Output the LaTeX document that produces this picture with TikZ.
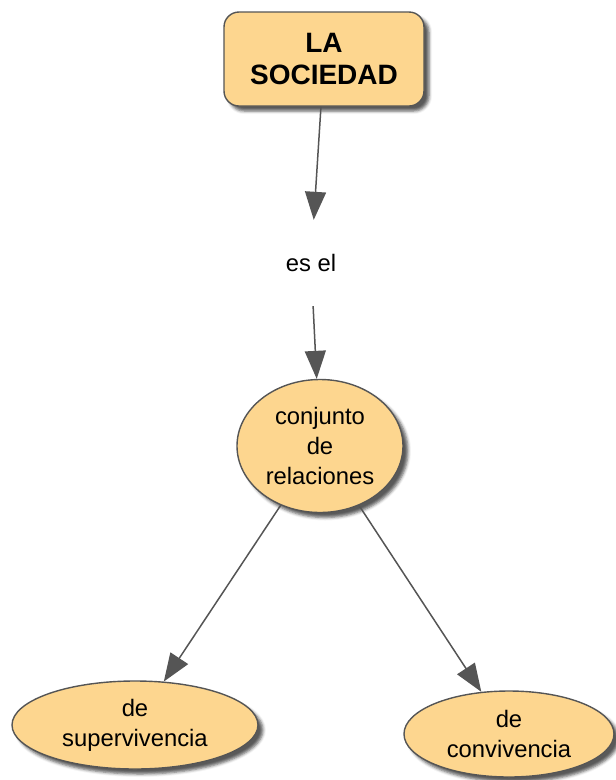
\documentclass[tikz,border=0pt]{standalone}
\usepackage{fontspec}
\setmainfont{Liberation Sans}
\usetikzlibrary{shapes.geometric,arrows.meta,shadows.blur}
\definecolor{conceptfill}{RGB}{253,214,143}
\definecolor{edgegray}{RGB}{85,85,85}
\tikzset{
  concept/.style={draw=edgegray, line width=1.4pt, fill=conceptfill,
    blur shadow={shadow xshift=5pt, shadow yshift=-5pt, shadow blur radius=3pt, shadow opacity=65},
    align=center, text=black, inner sep=0pt},
  conceptbox/.style={concept, rectangle, rounded corners=15pt,
    minimum width=200pt, minimum height=94pt, font=\fontsize{28}{32}\selectfont\bfseries},
  conceptoval/.style={concept, ellipse, font=\fontsize{23.8}{30}\selectfont},
  linkphrase/.style={inner sep=0pt, minimum width=60pt, minimum height=86pt,
    font=\fontsize{23.8}{30}\selectfont, text=black},
  connector/.style={draw=edgegray, line width=1.5pt,
    -{Triangle[length=28pt,width=21pt]}}
}
\begin{document}
\begin{tikzpicture}[x=1pt,y=-1pt]
  \useasboundingbox (0,0) rectangle (616,780);
  \node[conceptbox] (soc) at (324,59) {LA\\SOCIEDAD};
  \node[linkphrase] (es) at (311,263) {es el};
  \node[conceptoval, minimum width=166pt, minimum height=133pt] (rel) at (320,446)
    {conjunto\\de\\relaciones};
  \node[conceptoval, minimum width=246pt, minimum height=88pt] (sup) at (135,725)
    {de\\supervivencia};
  \node[conceptoval, minimum width=210pt, minimum height=86pt] (con) at (509,734)
    {de\\convivencia};
  \draw[connector] (soc) -- (es);
  \draw[connector] (es) -- (rel);
  \draw[connector] (rel) -- (sup);
  \draw[connector] (rel) -- (con);
\end{tikzpicture}
\end{document}
